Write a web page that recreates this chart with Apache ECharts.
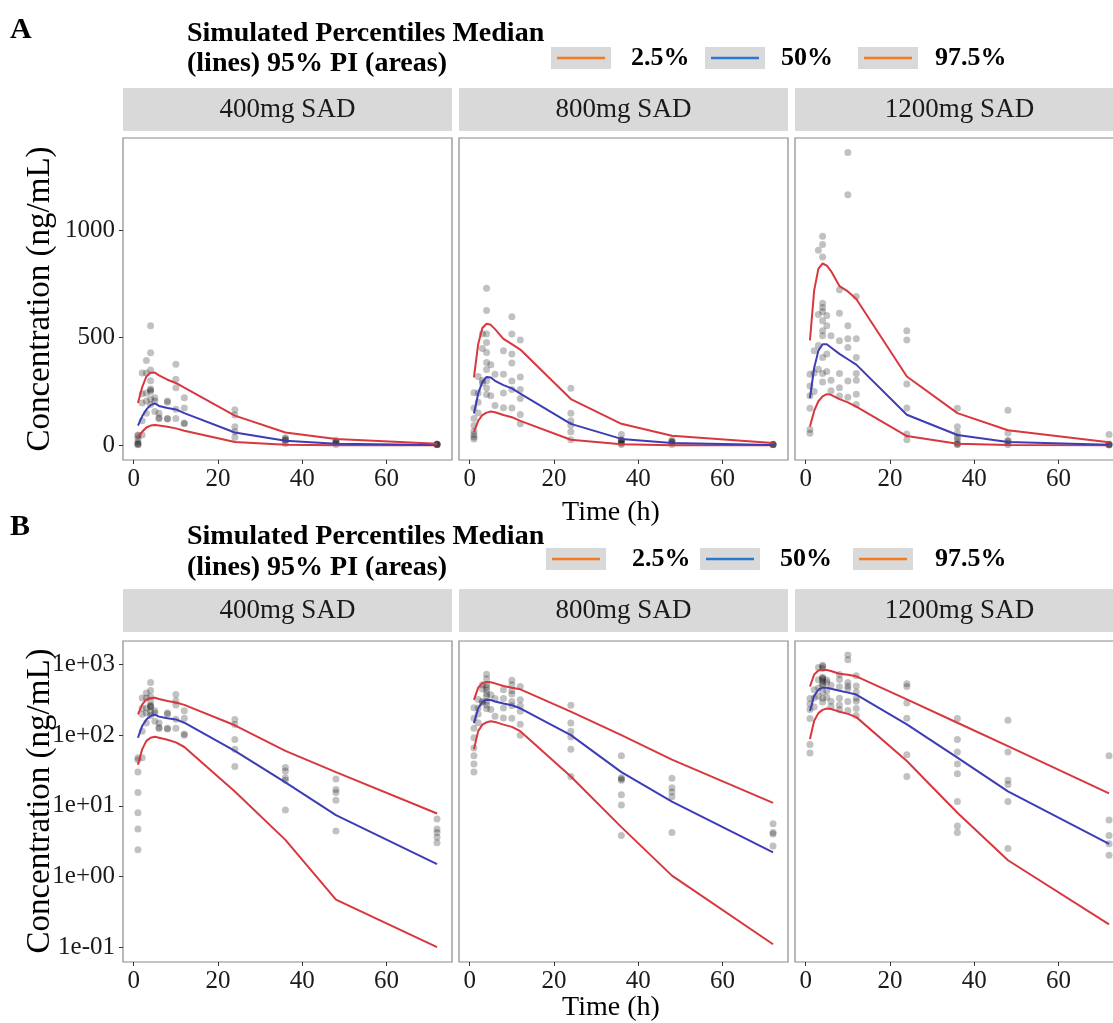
<!DOCTYPE html>
<html>
<head>
<meta charset="utf-8">
<title>Simulated percentiles vs observed concentrations</title>
<script src="https://cdn.jsdelivr.net/npm/echarts@6/dist/echarts.min.js"></script>
<style>
html, body { margin: 0; padding: 0; background: #fff; }
#main { width: 1113px; height: 1023px; }
</style>
</head>
<body>
<div id="main"></div>
<script>
/* 浓度-时间 VPC 图 : A 线性坐标, B 对数坐标 */
var doses = ['400mg SAD', '800mg SAD', '1200mg SAD'];
var pctNames = ['2.5%', '50%', '97.5%'];
var xTicks = [0, 20, 40, 60];
var yTicksLin = [0, 500, 1000];
var yTicksLog = [0.1, 1, 10, 100, 1000];

// 模拟时间点 (h)
var simTime = [1, 2, 3, 4, 5, 6, 8, 10, 12, 24, 36, 48, 72];

// 模拟百分位数 (ng/mL)
var p025_400 = [38, 63, 83, 92, 95, 92, 86, 79, 68, 16, 3.3, 0.47, 0.1];
var p50_400  = [92, 135, 167, 187, 195, 183, 174, 167, 150, 60, 21.5, 7.4, 1.5];
var p975_400 = [197, 270, 320, 337, 338, 325, 305, 290, 268, 138, 60, 30, 7.8];

var p025_800 = [63, 114, 141, 152, 157, 154, 141, 131, 114, 26, 5, 1.03, 0.11];
var p50_800  = [148, 240, 295, 318, 315, 300, 280, 265, 240, 100, 30, 11.5, 2.2];
var p975_800 = [316, 470, 545, 565, 560, 540, 495, 470, 445, 215, 100, 45, 11];

var p025_1200 = [88, 160, 205, 228, 238, 235, 215, 200, 180, 43, 8, 1.7, 0.21];
var p50_1200  = [220, 360, 440, 470, 470, 455, 425, 400, 375, 142, 48, 16, 2.9];
var p975_1200 = [488, 720, 820, 845, 835, 810, 740, 715, 680, 320, 150, 70, 15];

// 观测值 [时间, 浓度]
var obs_400 = [
    [1,48],[1,45],[1,30],[1,15.5],[1,8],[1,4.7],[1,2.4],
    [2,336],[2,240],[2,197],[2,114],[2,48],
    [3,394],[3,336],[3,243],[3,206],[3,149],
    [4,556],[4,430],[4,350],[4,300],[4,262],[4,257],[4,250],[4,215],[4,190],
    [5,221],[5,206],[5,157],
    [6,149],[6,128],[6,124],
    [8,206],[8,200],[8,125],[8,122],
    [10,377],[10,307],[10,268],[10,168],[10,125],
    [12,221],[12,174],[12,104],[12,100],
    [24,166],[24,141],[24,87],[24,63],[24,36],
    [36,35],[36,31],[36,25],[36,23],[36,8.7],
    [48,24],[48,17],[48,15.5],[48,12],[48,4.4],
    [72,6.5],[72,4.7],[72,4.2],[72,3.6],[72,3.0]
];
var obs_800 = [
    [1,244],[1,174],[1,125],[1,92],[1,66],[1,51],[1,39],[1,30],
    [2,320],[2,243],[2,200],[2,150],
    [3,518],[3,450],[3,301],[3,290],
    [4,730],[4,626],[4,517],[4,478],[4,431],[4,385],[4,353],[4,300],[4,267],[4,236],
    [5,374],[5,230],
    [6,330],[6,185],
    [8,440],[8,330],[8,243],[8,175],
    [10,598],[10,517],[10,424],[10,383],[10,299],[10,260],[10,174],
    [12,489],[12,318],[12,260],[12,218],[12,143],[12,100],
    [24,265],[24,149],[24,114],[24,94],[24,63],[24,26],
    [36,51],[36,25],[36,24],[36,23],[36,14.3],[36,10.3],[36,3.8],
    [48,24.5],[48,18],[48,15.7],[48,13.4],[48,4.2],
    [72,5.6],[72,4.2],[72,4.0],[72,2.7]
];
var obs_1200 = [
    [1,330],[1,276],[1,230],[1,172],[1,74],[1,56],
    [2,440],[2,336],[2,250],
    [3,907],[3,608],[3,464],[3,354],
    [4,972],[4,933],[4,875],[4,660],[4,640],[4,622],[4,579],[4,533],[4,509],[4,408],[4,334],[4,294],
    [5,603],[5,556],[5,424],[5,343],
    [6,509],[6,302],[6,254],
    [8,723],[8,614],[8,486],[8,334],[8,268],[8,229],
    [10,1361],[10,1164],[10,556],[10,495],[10,455],[10,299],[10,224],
    [12,692],[12,495],[12,408],[12,334],[12,302],[12,238],[12,190],
    [24,533],[24,489],[24,285],[24,174],[24,53],[24,26],
    [36,172],[36,87],[36,58],[36,39],[36,28.5],[36,11.5],[36,5.2],[36,4.2],
    [48,163],[48,58],[48,23],[48,20],[48,11.5],[48,2.5],
    [72,51],[72,6.3],[72,3.8],[72,2.9],[72,2.0]
];

var obsAll = [obs_400, obs_800, obs_1200];
var pctAll = [
    [p025_400, p50_400, p975_400],
    [p025_800, p50_800, p975_800],
    [p025_1200, p50_1200, p975_1200]
];

var SERIF = "'Liberation Serif', 'DejaVu Serif', serif";
var lineColors = ['#d9373e', '#3c3db5', '#d9373e'];
var keyColors = ['#f47a22', '#2b78d2', '#f47a22'];

// 面板布局
var panelLeft = [123, 459, 795],
    panelW = 329;
var rows = [
    { letter: 'A', letterY: 30, t1: 34, t2: 64, legY: 58, keyX: [551, 705, 858], txtX: [631, 781, 935],
      stripTop: 88, stripH: 43, top: 138, h: 322, timeY: 513, ylabY: 299, log: false },
    { letter: 'B', letterY: 527, t1: 537, t2: 568, legY: 559, keyX: [546, 700, 853], txtX: [632, 780, 935],
      stripTop: 589, stripH: 43, top: 641, h: 321, timeY: 1008, ylabY: 801, log: true }
];

function zip(xs, ys) {
    return xs.map(function (x, i) { return [x, ys[i]]; });
}

function expLabel(v) {
    var e = Math.round(Math.log(v) / Math.LN10);
    var s = String(Math.abs(e));
    if (s.length < 2) s = '0' + s;
    return '1e' + (e < 0 ? '-' : '+') + s;
}

var grids = [], xAxes = [], yAxes = [], series = [], graphics = [];

rows.forEach(function (row, r) {
    // 面板字母与图例标题
    graphics.push({ type: 'text', x: 10, y: row.letterY,
        style: { text: row.letter, font: 'bold 30px ' + SERIF, fill: '#000', verticalAlign: 'middle' } });
    graphics.push({ type: 'text', x: 187, y: row.t1,
        style: { text: 'Simulated Percentiles Median', font: 'bold 28px ' + SERIF, fill: '#000', verticalAlign: 'middle' } });
    graphics.push({ type: 'text', x: 187, y: row.t2,
        style: { text: '(lines) 95% PI (areas)', font: 'bold 28px ' + SERIF, fill: '#000', verticalAlign: 'middle' } });
    for (var k = 0; k < 3; k++) {
        graphics.push({ type: 'rect', shape: { x: row.keyX[k], y: row.legY - 11, width: 60, height: 22 },
            style: { fill: '#d9d9d9' } });
        graphics.push({ type: 'line', shape: { x1: row.keyX[k] + 6, y1: row.legY, x2: row.keyX[k] + 54, y2: row.legY },
            style: { stroke: keyColors[k], lineWidth: 2.5 } });
        graphics.push({ type: 'text', x: row.txtX[k], y: row.legY,
            style: { text: pctNames[k], font: 'bold 26px ' + SERIF, fill: '#000', verticalAlign: 'middle' } });
    }
    // 坐标轴标题
    graphics.push({ type: 'text', x: 611, y: row.timeY,
        style: { text: 'Time (h)', font: '28px ' + SERIF, fill: '#000', textAlign: 'center', verticalAlign: 'middle' } });
    graphics.push({ type: 'text', x: 40, y: row.ylabY, rotation: Math.PI / 2,
        style: { text: 'Concentration (ng/mL)', font: '33px ' + SERIF, fill: '#000', textAlign: 'center', verticalAlign: 'middle' } });

    for (var d = 0; d < 3; d++) {
        var gi = r * 3 + d;
        // 分面标签
        graphics.push({ type: 'rect', shape: { x: panelLeft[d], y: row.stripTop, width: panelW, height: row.stripH },
            style: { fill: '#d9d9d9' } });
        graphics.push({ type: 'text', x: panelLeft[d] + panelW / 2, y: row.stripTop + row.stripH / 2,
            style: { text: doses[d], font: '27px ' + SERIF, fill: '#1a1a1a', textAlign: 'center', verticalAlign: 'middle' } });

        grids.push({ left: panelLeft[d], top: row.top, width: panelW, height: row.h,
            show: true, borderColor: '#8a8a8a', borderWidth: 1.2, backgroundColor: '#fff',
            containLabel: false, outerBoundsMode: 'none' });

        xAxes.push({ gridIndex: gi, type: 'value', min: -2.55, max: 75.55,
            axisLine: { show: false, onZero: false },
            axisTick: { show: true, length: 4, customValues: xTicks, lineStyle: { color: '#333', width: 1 } },
            axisLabel: { customValues: xTicks, fontFamily: SERIF, fontSize: 25, color: '#1a1a1a', margin: 7 },
            splitLine: { show: false } });

        var yAx = { gridIndex: gi,
            axisLine: { show: false, onZero: false },
            axisTick: { show: d === 0, length: 4, lineStyle: { color: '#333', width: 1 } },
            axisLabel: { show: d === 0, fontFamily: SERIF, fontSize: 25, color: '#1a1a1a', margin: 8 },
            splitLine: { show: false } };
        if (row.log) {
            yAx.type = 'log';
            yAx.logBase = 10;
            yAx.min = 0.0617;
            yAx.max = 2150;
            yAx.axisTick.customValues = yTicksLog;
            yAx.axisLabel.customValues = yTicksLog;
            yAx.axisLabel.formatter = expLabel;
        } else {
            yAx.type = 'value';
            yAx.min = -68;
            yAx.max = 1428;
            yAx.axisTick.customValues = yTicksLin;
            yAx.axisLabel.customValues = yTicksLin;
            yAx.axisLabel.formatter = function (v) { return String(v); };
        }
        yAxes.push(yAx);

        series.push({ type: 'scatter', xAxisIndex: gi, yAxisIndex: gi, data: obsAll[d],
            symbolSize: 7, itemStyle: { color: 'rgba(0,0,0,0.3)' }, silent: true, z: 2 });
        for (var p = 0; p < 3; p++) {
            series.push({ type: 'line', name: pctNames[p], xAxisIndex: gi, yAxisIndex: gi,
                data: zip(simTime, pctAll[d][p]), symbol: 'none', showSymbol: false, smooth: false,
                lineStyle: { color: lineColors[p], width: 2 }, z: 3, silent: true });
        }
    }
});

var myChart = echarts.init(document.getElementById('main'));
myChart.setOption({
    animation: false,
    backgroundColor: '#fff',
    grid: grids,
    xAxis: xAxes,
    yAxis: yAxes,
    series: series,
    graphic: graphics
});
</script>
</body>
</html>
